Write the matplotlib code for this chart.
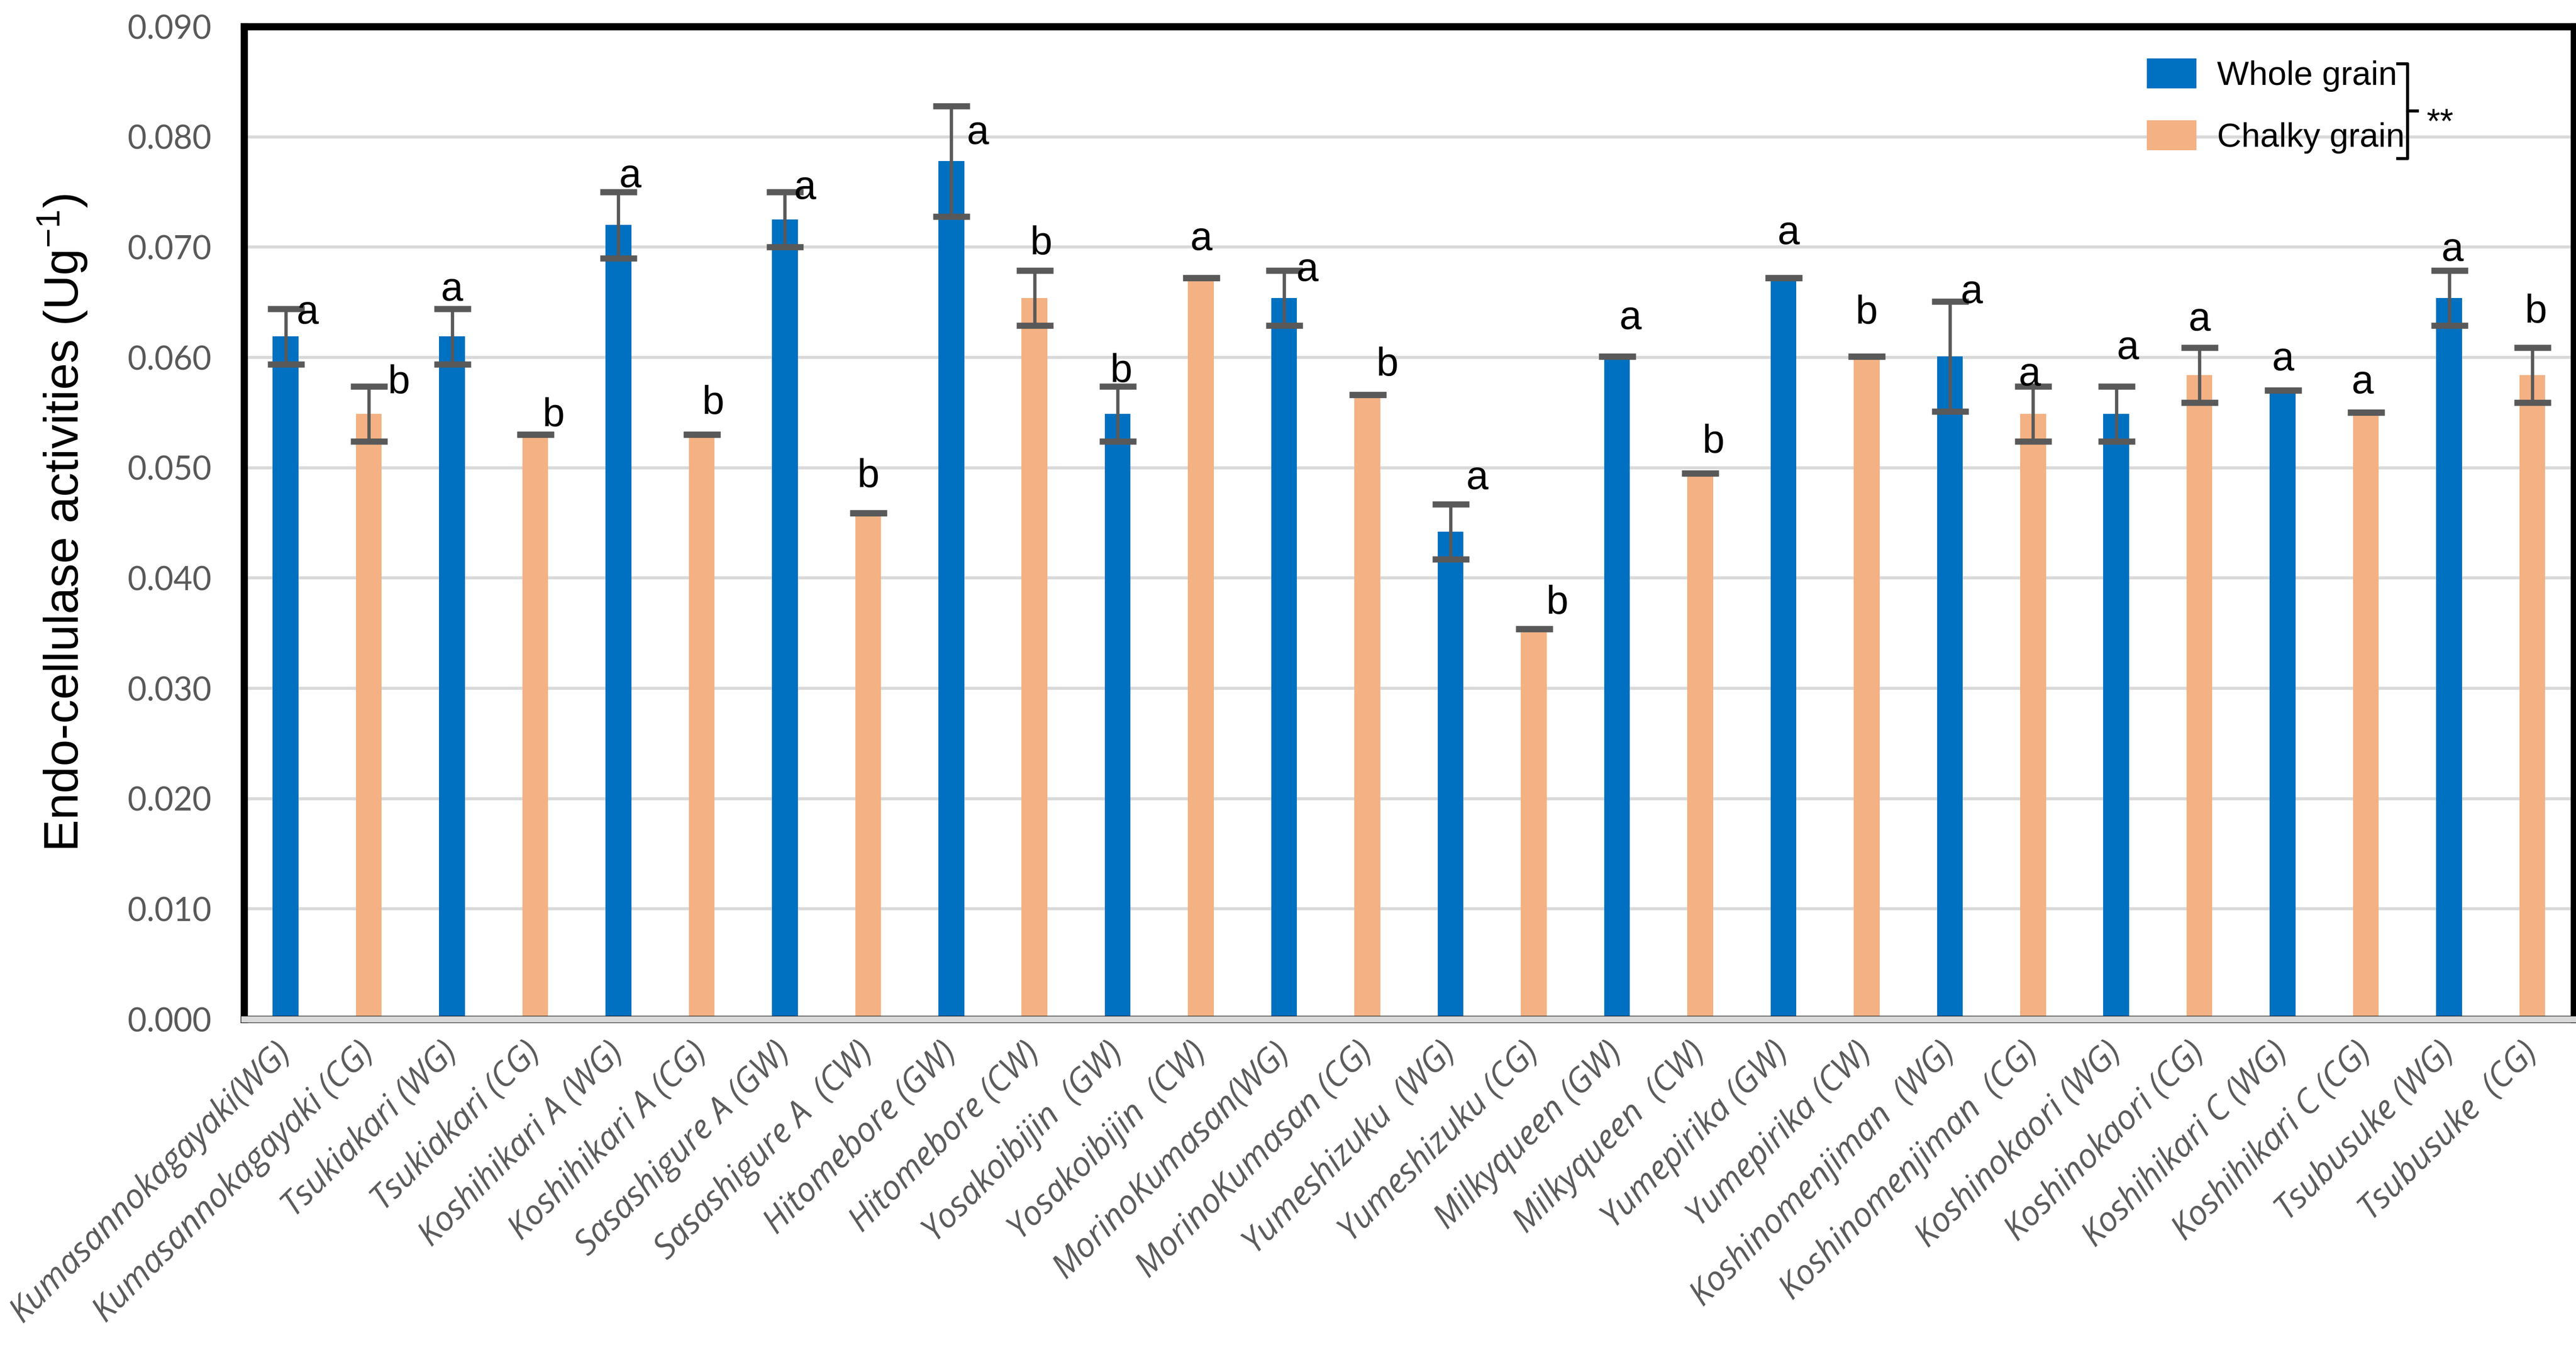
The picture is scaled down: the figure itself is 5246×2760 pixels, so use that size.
import numpy as np
import matplotlib.pyplot as plt

plt.rcParams['mathtext.default'] = 'regular'

# Varieties: whole grain / chalky grain alternate
varieties = ['Kumasannokagayaki(WG)', 'Kumasannokagayaki (CG)', 'Tsukiakari (WG)', 'Tsukiakari (CG)',
             'Koshihikari A (WG)', 'Koshihikari A (CG)', 'Sasashigure A (GW)', 'Sasashigure A  (CW)',
             'Hitomebore (GW)', 'Hitomebore (CW)', 'Yosakoibijin  (GW)', 'Yosakoibijin  (CW)',
             'MorinoKumasan(WG)', 'MorinoKumasan (CG)', 'Yumeshizuku  (WG)', 'Yumeshizuku (CG)',
             'Milkyqueen (GW)', 'Milkyqueen  (CW)', 'Yumepirika (GW)', 'Yumepirika (CW)',
             'Koshinomenjiman  (WG)', 'Koshinomenjiman  (CG)', 'Koshinokaori (WG)', 'Koshinokaori (CG)',
             'Koshihikari C (WG)', 'Koshihikari C (CG)', 'Tsubusuke (WG)', 'Tsubusuke  (CG)']
activity = [0.0619, 0.0549, 0.0619, 0.0530, 0.0720, 0.0530, 0.0725, 0.0459,
            0.0778, 0.0654, 0.0549, 0.0672, 0.0654, 0.0566, 0.0442, 0.0354,
            0.0601, 0.0495, 0.0672, 0.0601, 0.0601, 0.0549, 0.0549, 0.0584,
            0.0570, 0.0550, 0.0654, 0.0584]
sd = [0.0025, 0.0025, 0.0025, 0.0, 0.0030, 0.0, 0.0025, 0.0,
      0.0050, 0.0025, 0.0025, 0.0, 0.0025, 0.0, 0.0025, 0.0,
      0.0, 0.0, 0.0, 0.0, 0.0050, 0.0025, 0.0025, 0.0025,
      0.0, 0.0, 0.0025, 0.0025]
letters = ['a', 'b', 'a', 'b', 'a', 'b', 'a', 'b', 'a', 'b', 'b', 'a', 'a', 'b',
           'a', 'b', 'a', 'b', 'a', 'b', 'a', 'a', 'a', 'a', 'a', 'a', 'a', 'b']

# letter placement relative to the top of the error bar
letter_dx = [0.26, 0.36, 0.0, 0.22, 0.14, 0.14, 0.24, 0.0, 0.32, 0.08, 0.04, 0.0, 0.28, 0.24,
             0.32, 0.28, 0.16, 0.16, 0.06, 0.0, 0.26, -0.04, 0.14, 0.0, 0.0, -0.04, 0.04, 0.04]
letter_dy = [-0.0004, 0.0003, 0.0017, 0.0017, 0.0014, 0.0028, 0.0003, 0.0033, -0.0025, 0.0024,
             0.0013, 0.0035, 0.0, 0.0027, 0.0023, 0.0023, 0.0034, 0.0028, 0.0040, 0.0039,
             0.0008, 0.0010, 0.0034, 0.0025, 0.0028, 0.0027, 0.0018, 0.0032]

blue = '#0070C0'
orange = '#F4B183'
gray = '#595959'

x = np.arange(len(varieties))
activity = np.array(activity)
sd = np.array(sd)

fig = plt.figure(figsize=(17.49, 9.2), dpi=300)
ax = fig.add_axes([0.0947, 0.2478, 0.9043, 0.7326])

ax.bar(x[0::2], activity[0::2], width=0.31, color=blue, label='Whole grain', zorder=2)
ax.bar(x[1::2], activity[1::2], width=0.31, color=orange, label='Chalky grain', zorder=2)
ax.errorbar(x, activity, yerr=sd, fmt='none', ecolor=gray, elinewidth=1.6,
            capsize=9, capthick=3, zorder=3)

for i in range(len(x)):
    ax.text(x[i] + letter_dx[i], activity[i] + sd[i] + letter_dy[i], letters[i],
            ha='center', va='center', fontsize=19.5, family='Liberation Sans', zorder=4)

ax.set_xlim(-0.5, len(x) - 0.5)
ax.set_ylim(0, 0.090)
ax.set_yticks(np.arange(0, 0.0901, 0.010))
ax.set_yticklabels(['%.3f' % v for v in np.arange(0, 0.0901, 0.010)])
ax.yaxis.grid(True, color='#D9D9D9', linewidth=1.5, zorder=0)
ax.set_axisbelow(True)

ax.set_xticks(x)
ax.set_xticklabels(varieties, rotation=45, ha='right', va='center', rotation_mode='anchor',
                   fontstyle='italic', family='Open Sans', fontsize=16.5)
ax.tick_params(axis='both', length=0, labelcolor=gray)
ax.tick_params(axis='y', pad=16, labelsize=16)
ax.tick_params(axis='x', pad=14)
for lab in ax.get_yticklabels():
    lab.set_family('Lato')

for s in ax.spines.values():
    s.set_linewidth(3.5)
    s.set_color('black')
ax.axhline(0, color='#D9D9D9', linewidth=3, zorder=5, clip_on=False)

ax.set_ylabel('Endo-cellulase activities (Ug$^{-1}$)', fontsize=23.5, family='Liberation Sans',
              labelpad=19)

ax.legend(loc='upper left', bbox_to_anchor=(0.8095, 0.985), frameon=False, borderpad=0,
          prop={'family': 'Liberation Sans', 'size': 16.5}, handlelength=1.47,
          handleheight=0.99, handletextpad=0.6, labelspacing=0.85)

# bracket with significance mark
ax.plot([0.9243, 0.9286, 0.9286, 0.9243], [0.9624, 0.9624, 0.8670, 0.8670], color='black',
        linewidth=1.5, transform=ax.transAxes, clip_on=False)
ax.plot([0.9286, 0.9328], [0.9149, 0.9149], color='black', linewidth=1.5,
        transform=ax.transAxes, clip_on=False)
ax.text(0.9427, 0.902, '**', ha='center', va='center', fontsize=17, family='Liberation Sans',
        transform=ax.transAxes)

plt.savefig('out.png', dpi=300)
